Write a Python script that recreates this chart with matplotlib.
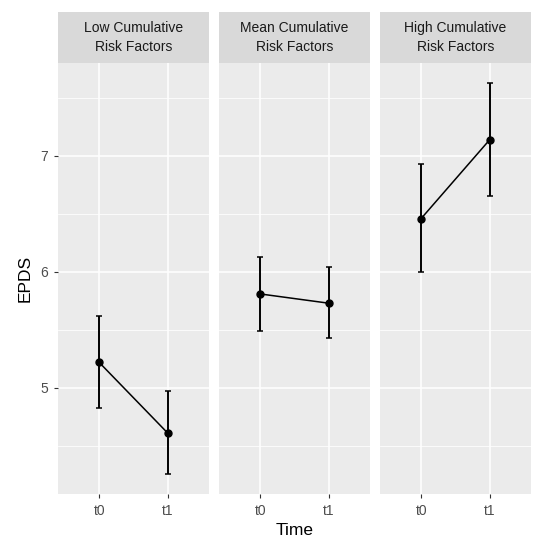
import numpy as np
import matplotlib.pyplot as plt

plt.rcParams['font.family'] = ['Liberation Sans', 'DejaVu Sans']

# data
panels = ['Low Cumulative\nRisk Factors', 'Mean Cumulative\nRisk Factors', 'High Cumulative\nRisk Factors']
times = ['t0', 't1']
epds_mean = [[5.22, 4.61], [5.81, 5.73], [6.46, 7.14]]
epds_lo = [[4.83, 4.26], [5.49, 5.43], [6.00, 6.65]]
epds_hi = [[5.62, 4.97], [6.13, 6.04], [6.93, 7.63]]
y_ticks = [5, 6, 7]
y_minor = [4.5, 5.5, 6.5, 7.5]

W, H = 533, 540
fig = plt.figure(figsize=(W/100, H/100), dpi=100)

panel_x = [58, 219, 380]
panel_w = 151
top, strip_h, bottom = 12, 51, 494

for i, name in enumerate(panels):
    x0 = panel_x[i]
    ax = fig.add_axes([x0/W, 1-bottom/H, panel_w/W, (bottom-top-strip_h)/H])
    ax.set_facecolor('#EBEBEB')
    for s in ax.spines.values():
        s.set_visible(False)
    ax.set_xlim(-0.6, 1.6)
    ax.set_ylim(4.086, 7.80)
    ax.set_yticks(y_ticks)
    ax.set_yticks(y_minor, minor=True)
    ax.set_xticks([0, 1])
    ax.set_xticklabels(times)
    ax.grid(which='major', color='white', linewidth=1.1)
    ax.grid(which='minor', axis='y', color='white', linewidth=0.55)
    ax.set_axisbelow(True)
    ax.tick_params(which='major', length=3, width=0.8, color='#333333',
                   labelcolor='#4D4D4D', labelsize=10, pad=4)
    ax.tick_params(which='minor', length=0)
    if i > 0:
        ax.tick_params(axis='y', left=False, labelleft=False)
    else:
        ax.set_ylabel('EPDS', fontsize=12.5, color='black', labelpad=6)
    if i == 1:
        ax.set_xlabel('Time', fontsize=12.5, color='black', labelpad=4)

    m = np.array(epds_mean[i])
    lo = np.array(epds_lo[i])
    hi = np.array(epds_hi[i])
    ax.errorbar([0, 1], m, yerr=[m-lo, hi-m], color='black', linewidth=1.1,
                elinewidth=1.4, capsize=2.5, capthick=1.1, marker='o', markersize=5)

    sax = fig.add_axes([x0/W, 1-(top+strip_h)/H, panel_w/W, strip_h/H])
    sax.set_facecolor('#D9D9D9')
    sax.set_xticks([])
    sax.set_yticks([])
    for s in sax.spines.values():
        s.set_visible(False)
    sax.text(0.5, 0.5, name, ha='center', va='center', fontsize=10,
             color='#1A1A1A', linespacing=1.4, transform=sax.transAxes)

fig.savefig('out.png', dpi=100)
